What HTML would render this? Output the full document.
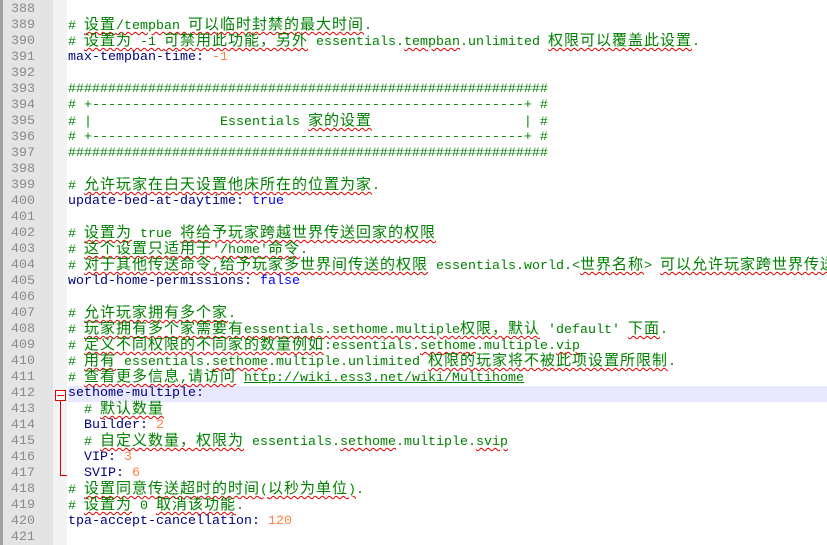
<!DOCTYPE html>
<html><head><meta charset="utf-8"><style>
html,body{margin:0;padding:0;width:827px;height:545px;overflow:hidden;background:#fff;}
#ed{position:relative;width:827px;height:545px;}
#bd{position:absolute;left:0;top:0;width:3px;height:545px;background:#a0a0a0;}
#gut{position:absolute;left:3px;top:0;width:50px;height:545px;background:#e4e4e4;}
#fold{position:absolute;left:53px;top:0;width:14px;height:545px;background:#f3f3f3;}
.ln{position:absolute;left:3px;width:32px;text-align:right;color:#8a8a8a;font:13.33px/16px "Liberation Mono",monospace;}
.tx{position:absolute;left:68px;white-space:pre;font:13.33px/16px "Liberation Mono","Noto Sans CJK SC",monospace;color:#000080;}
.c{color:#008000;}
.n{color:#ff8040;}
.b{color:#0000ff;}
.k{font-size:15px;line-height:16px;letter-spacing:1px;}
.w{text-decoration:underline wavy #e00000;text-decoration-thickness:1px;text-underline-offset:2px;}
.u{text-decoration:underline;}
#hl{position:absolute;left:68px;top:386px;width:759px;height:16px;background:#e8e8ff;}
</style></head><body><div id="ed">
<div id="bd"></div><div id="gut"></div><div id="fold"></div>
<div id="hl"></div>
<div style="position:absolute;left:55px;top:390px;width:9px;height:9px;border:1px solid #e00000;background:#fff;"></div>
<div style="position:absolute;left:57px;top:395px;width:7px;height:1px;background:#e00000;"></div>
<div style="position:absolute;left:60px;top:401px;width:1px;height:75px;background:#e00000;"></div>
<div style="position:absolute;left:60px;top:475px;width:7px;height:1px;background:#e00000;"></div>

<div class="ln" style="top:2px">388</div>
<div class="ln" style="top:18px">389</div><div class="tx c" style="top:18px"># <span class="w"><span class="k">设置</span>/tempban <span class="k">可以临时封禁的最大时间</span></span>.</div>
<div class="ln" style="top:34px">390</div><div class="tx c" style="top:34px"># <span class="w"><span class="k">设置为</span> -1 <span class="k">可禁用此功能，另外</span></span> essentials.<span class="w">tempban</span>.unlimited <span class="w k">权限可以覆盖此设置</span>.</div>
<div class="ln" style="top:50px">391</div><div class="tx" style="top:50px">max-tempban-time: <span class="n">-1</span></div>
<div class="ln" style="top:66px">392</div>
<div class="ln" style="top:82px">393</div><div class="tx c" style="top:82px">############################################################</div>
<div class="ln" style="top:98px">394</div><div class="tx c" style="top:98px"># +------------------------------------------------------+ #</div>
<div class="ln" style="top:114px">395</div><div class="tx c" style="top:114px"># |                Essentials <span class="w k">家的设置</span>                   | #</div>
<div class="ln" style="top:130px">396</div><div class="tx c" style="top:130px"># +------------------------------------------------------+ #</div>
<div class="ln" style="top:146px">397</div><div class="tx c" style="top:146px">############################################################</div>
<div class="ln" style="top:162px">398</div>
<div class="ln" style="top:178px">399</div><div class="tx c" style="top:178px"># <span class="w k">允许玩家在白天设置他床所在的位置为家</span>.</div>
<div class="ln" style="top:194px">400</div><div class="tx" style="top:194px">update-bed-at-daytime: <span class="b">true</span></div>
<div class="ln" style="top:210px">401</div>
<div class="ln" style="top:226px">402</div><div class="tx c" style="top:226px"># <span class="w k">设置为</span> true <span class="w k">将给予玩家跨越世界传送回家的权限</span></div>
<div class="ln" style="top:242px">403</div><div class="tx c" style="top:242px"># <span class="w"><span class="k">这个设置只适用于</span>'/home'<span class="k">命令</span></span>.</div>
<div class="ln" style="top:258px">404</div><div class="tx c" style="top:258px"># <span class="w"><span class="k">对于其他传送命令</span>,<span class="k">给予玩家多世界间传送的权限</span></span> essentials.world.&lt;<span class="w k">世界名称</span>&gt; <span class="w k">可以允许玩家跨世界传送</span></div>
<div class="ln" style="top:274px">405</div><div class="tx" style="top:274px">world-home-permissions: <span class="b">false</span></div>
<div class="ln" style="top:290px">406</div>
<div class="ln" style="top:306px">407</div><div class="tx c" style="top:306px"># <span class="w k">允许玩家拥有多个家</span>.</div>
<div class="ln" style="top:322px">408</div><div class="tx c" style="top:322px"># <span class="w"><span class="k">玩家拥有多个家需要有</span>essentials.sethome.multiple<span class="k">权限，默认</span></span> 'default' <span class="w k">下面</span>.</div>
<div class="ln" style="top:338px">409</div><div class="tx c" style="top:338px"># <span class="w k">定义不同权限的不同家的数量例如</span>:essentials.<span class="w">sethome</span>.multiple.<span class="w">vip</span></div>
<div class="ln" style="top:354px">410</div><div class="tx c" style="top:354px"># <span class="w k">用有</span> essentials.<span class="w">sethome</span>.multiple.unlimited <span class="w k">权限的玩家将不被此项设置所限制</span>.</div>
<div class="ln" style="top:370px">411</div><div class="tx c" style="top:370px"># <span class="w"><span class="k">查看更多信息</span>,<span class="k">请访问</span></span> <span class="u">http://wiki.ess3.net/wiki/Multihome</span></div>
<div class="ln" style="top:386px">412</div><div class="tx" style="top:386px">sethome-multiple:</div>
<div class="ln" style="top:402px">413</div><div class="tx c" style="top:402px">  # <span class="w k">默认数量</span></div>
<div class="ln" style="top:418px">414</div><div class="tx" style="top:418px">  Builder: <span class="n">2</span></div>
<div class="ln" style="top:434px">415</div><div class="tx c" style="top:434px">  # <span class="w k">自定义数量，权限为</span> essentials.<span class="w">sethome</span>.multiple.<span class="w">svip</span></div>
<div class="ln" style="top:450px">416</div><div class="tx" style="top:450px">  VIP: <span class="n">3</span></div>
<div class="ln" style="top:466px">417</div><div class="tx" style="top:466px">  SVIP: <span class="n">6</span></div>
<div class="ln" style="top:482px">418</div><div class="tx c" style="top:482px"># <span class="w"><span class="k">设置同意传送超时的时间</span>(<span class="k">以秒为单位</span>)</span>.</div>
<div class="ln" style="top:498px">419</div><div class="tx c" style="top:498px"># <span class="w k">设置为</span> 0 <span class="w k">取消该功能</span>.</div>
<div class="ln" style="top:514px">420</div><div class="tx" style="top:514px">tpa-accept-cancellation: <span class="n">120</span></div>
<div class="ln" style="top:530px">421</div>
</div></body></html>
